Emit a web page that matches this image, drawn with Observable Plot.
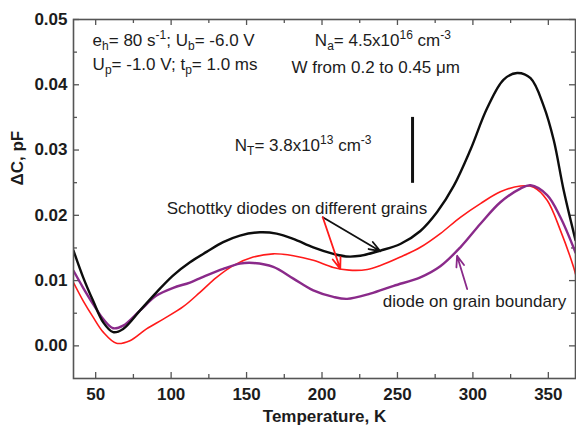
<!DOCTYPE html>
<html>
<head>
<meta charset="utf-8">
<script src="https://cdn.jsdelivr.net/npm/d3@7"></script>
<script src="https://cdn.jsdelivr.net/npm/@observablehq/plot@0.6"></script>
<style>
  body { margin: 0; background: #fff; }
  #chart svg { display: block; }
</style>
</head>
<body>
<div id="chart"></div>
<script>
// ---- data ----
const tBlack = [35.3, 41.7, 48.3, 55, 61.6, 68.2, 79.3, 90.3, 101.4, 112.5, 123.5, 134.5, 145.6, 158.9, 169.9, 181, 194.2, 207.5, 216, 225.4, 238.7, 251.9, 265.2, 276.3, 287.3, 298.3, 309.4, 320.4, 329.3, 338.2, 347, 353.6, 360.2, 368];
const dcBlack = [0.0146, 0.0105, 0.0069, 0.0036, 0.0021, 0.0026, 0.0054, 0.0082, 0.0108, 0.0128, 0.0144, 0.0159, 0.0169, 0.0174, 0.0172, 0.0164, 0.0151, 0.0141, 0.0137, 0.0138, 0.0146, 0.0156, 0.0176, 0.0205, 0.0245, 0.0300, 0.0364, 0.0408, 0.0418, 0.0410, 0.0367, 0.0315, 0.0238, 0.0162];

const tRed = [35.3, 41.7, 48.3, 55, 63.8, 72.7, 83.7, 94.8, 108, 119.1, 130.1, 141.2, 154.4, 167.7, 181, 194.2, 207.5, 218, 230, 238.7, 251.9, 265.2, 278.4, 291.7, 305, 318.2, 331.5, 340.3, 349.2, 358, 366.8, 368];
const dcRed = [0.0097, 0.0069, 0.0044, 0.0021, 0.0004, 0.0008, 0.0026, 0.0041, 0.0060, 0.0082, 0.0105, 0.0123, 0.0136, 0.0141, 0.0138, 0.0131, 0.0120, 0.0116, 0.0117, 0.0123, 0.0136, 0.0151, 0.0172, 0.0197, 0.0218, 0.0236, 0.0245, 0.0243, 0.0223, 0.0177, 0.0120, 0.0110];

const tPurple = [35.3, 41.7, 48.3, 55, 61.6, 68.2, 79.3, 90.3, 101.4, 112.5, 123.5, 134.5, 145.6, 154.4, 167.7, 181, 194.2, 207.5, 216.6, 232, 247.5, 265.2, 278.4, 291.7, 305, 318.2, 331.5, 338.2, 349.2, 358, 368];
const dcPurple = [0.0115, 0.0089, 0.0064, 0.0041, 0.0027, 0.0031, 0.0054, 0.0077, 0.0089, 0.0097, 0.0108, 0.0118, 0.0126, 0.0127, 0.0121, 0.0103, 0.0085, 0.0075, 0.0072, 0.0080, 0.0092, 0.0105, 0.0122, 0.0151, 0.0187, 0.0220, 0.0241, 0.0246, 0.0231, 0.0197, 0.0143];

const xMajor = [50, 100, 150, 200, 250, 300, 350];
const xMinor = [75, 125, 175, 225, 275, 325];
const yMajor = [0, 0.01, 0.02, 0.03, 0.04, 0.05];
const yMinor = [0.005, 0.015, 0.025, 0.035, 0.045];

// scale bar (N_T) and arrows
const barT = [260];
const barFrom = [0.0249];
const barTo = [0.0350];

const arrowFromT = [200.5, 200.5, 296.2];
const arrowFromV = [0.0197, 0.0197, 0.0087];
const arrowToT = [238.7, 212.1, 289.5];
const arrowToV = [0.0145, 0.0118, 0.0138];
const arrowColor = ["#111111", "#ff1a1a", "#8a2a8a"];

// annotation texts (rich text parts: [text, "sub"|"sup"|undefined])
const noteT = [48.3, 48.3, 195.6, 180.1, 142.5, 97.4, 240.6];
const noteV = [0.04585, 0.0422, 0.04585, 0.04169, 0.02974, 0.02015, 0.00589];
const noteParts = [
  [["e"], ["h", "sub"], ["= 80 s"], ["-1", "sup"], ["; U"], ["b", "sub"], ["= -6.0 V"]],
  [["U"], ["p", "sub"], ["= -1.0 V; t"], ["p", "sub"], ["= 1.0 ms"]],
  [["N"], ["a", "sub"], ["= 4.5x10"], ["16", "sup"], [" cm"], ["-3", "sup"]],
  [["W from 0.2 to 0.45 \u03bcm"]],
  [["N"], ["T", "sub"], ["= 3.8x10"], ["13", "sup"], [" cm"], ["-3", "sup"]],
  [["Schottky diodes on different grains"]],
  [["diode on grain boundary"]]
];

// ---- layout ----
const W = 576, H = 431, mL = 73, mR = 1, mT = 19, mB = 53;
const plotH = H - mT - mB, plotW = W - mL - mR;
const font = "'Liberation Sans', Arial, Helvetica, sans-serif";
const axisColor = "#555";
const textColor = "#1c1c1c";

const series = (t, v) => t.map((T, i) => ({T, v: v[i]}));
const arrows = arrowFromT.map((t, i) => ({x1: t, y1: arrowFromV[i], x2: arrowToT[i], y2: arrowToV[i], c: arrowColor[i]}));
const bars = barT.map((t, i) => ({T: t, a: barFrom[i], b: barTo[i]}));

function richText(index, scales) {
  const g = d3.create("svg:g")
    .attr("font-family", font)
    .attr("font-size", 17)
    .attr("fill", textColor)
    .attr("text-anchor", "start")
    .style("white-space", "pre");
  noteParts.forEach((parts, k) => {
    const t = g.append("text")
      .attr("text-anchor", "start")
      .attr("x", scales.x(noteT[k]))
      .attr("y", scales.y(noteV[k]));
    let shift = 0;
    for (const [s, kind] of parts) {
      const target = kind === "sub" ? 4 : kind === "sup" ? -7 : 0;
      const ts = t.append("tspan").attr("dy", target - shift).text(s);
      if (kind) ts.attr("font-size", 12);
      shift = target;
    }
  });
  return g.node();
}

const chart = Plot.plot({
  width: W,
  height: H,
  marginLeft: mL,
  marginRight: mR,
  marginTop: mT,
  marginBottom: mB,
  style: {fontFamily: font, background: "#fff"},
  x: {domain: [35.3, 368], axis: null},
  y: {domain: [-0.005, 0.05], axis: null},
  marks: [
    // ticks (inward, all four sides)
    Plot.tickX(xMajor, {x: d => d, insetTop: plotH - 6, stroke: axisColor, strokeWidth: 1.3}),
    Plot.tickX(xMinor, {x: d => d, insetTop: plotH - 4, stroke: axisColor, strokeWidth: 1.3}),
    Plot.tickX(xMajor, {x: d => d, insetBottom: plotH - 6, stroke: axisColor, strokeWidth: 1.3}),
    Plot.tickX(xMinor, {x: d => d, insetBottom: plotH - 4, stroke: axisColor, strokeWidth: 1.3}),
    Plot.tickY(yMajor, {y: d => d, insetRight: plotW - 6, stroke: axisColor, strokeWidth: 1.3}),
    Plot.tickY(yMinor, {y: d => d, insetRight: plotW - 4, stroke: axisColor, strokeWidth: 1.3}),
    Plot.tickY(yMajor, {y: d => d, insetLeft: plotW - 6, stroke: axisColor, strokeWidth: 1.3}),
    Plot.tickY(yMinor, {y: d => d, insetLeft: plotW - 4, stroke: axisColor, strokeWidth: 1.3}),
    // tick labels
    Plot.text(xMajor, {x: d => d, frameAnchor: "bottom", lineAnchor: "top", dy: 9, text: d => String(d),
      fontSize: 17, fontWeight: "bold", fill: textColor}),
    Plot.text(yMajor, {y: d => d, frameAnchor: "left", textAnchor: "end", dx: -6, text: d => d3.format(".2f")(d),
      fontSize: 17, fontWeight: "bold", fill: textColor}),
    // axis titles
    Plot.text(["Temperature, K"], {frameAnchor: "bottom", dy: 43, text: d => d,
      fontSize: 17, fontWeight: "bold", fill: textColor}),
    Plot.text(["\u0394C, pF"], {frameAnchor: "left", rotate: -90, dx: -56, dy: -13.5, text: d => d,
      fontSize: 17, fontWeight: "bold", fill: textColor}),
    // curves
    Plot.line(series(tRed, dcRed), {x: "T", y: "v", stroke: "#ff1a1a", strokeWidth: 1.6, curve: "catmull-rom", clip: true}),
    Plot.line(series(tPurple, dcPurple), {x: "T", y: "v", stroke: "#8a2a8a", strokeWidth: 2.4, curve: "catmull-rom", clip: true}),
    Plot.line(series(tBlack, dcBlack), {x: "T", y: "v", stroke: "#0d0d0d", strokeWidth: 2.4, curve: "catmull-rom", clip: true}),
    // N_T scale bar
    Plot.ruleX(bars, {x: "T", y1: "a", y2: "b", stroke: "#111", strokeWidth: 3}),
    // arrows
    Plot.arrow(arrows, {x1: "x1", y1: "y1", x2: "x2", y2: "y2", stroke: "c", strokeWidth: 1.8, headLength: 10, headAngle: 40}),
    // annotations
    richText,
    // frame
    Plot.frame({stroke: axisColor, strokeWidth: 1.6})
  ]
});

document.getElementById("chart").appendChild(chart);
</script>
</body>
</html>
